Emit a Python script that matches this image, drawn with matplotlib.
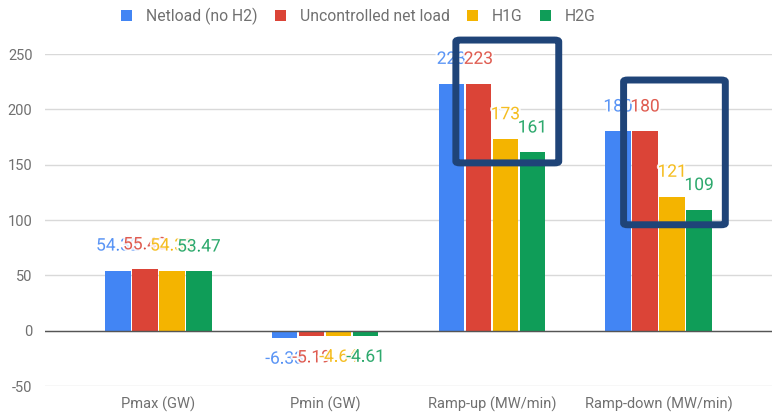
import numpy as np
import matplotlib
matplotlib.use("Agg")
from matplotlib import pyplot as plt
from matplotlib.patches import FancyBboxPatch
import matplotlib.patheffects as pe

plt.rcParams['font.family'] = ['Roboto', 'DejaVu Sans']

categories = ["Pmax (GW)", "Pmin (GW)", "Ramp-up (MW/min)", "Ramp-down (MW/min)"]
series = ["Netload (no H2)", "Uncontrolled net load", "H1G", "H2G"]
netload = [54.32, -6.33, 223, 180]
uncontrolled = [55.42, -5.19, 223, 180]
h1g = [54.33, -4.64, 173, 121]
h2g = [53.47, -4.61, 161, 109]
colors = ["#4285F4", "#DB4437", "#F4B400", "#0F9D58"]
yticks = [-50, 0, 50, 100, 150, 200, 250]

fig = plt.figure(figsize=(7.72, 4.13), dpi=100)
ax = fig.add_axes([45 / 772, 1 - 386 / 413, 1 - 45 / 772, (386 - 54) / 413])

x = np.arange(len(categories))
step = 0.162
width = 0.152
for i, (name, vals, c) in enumerate(zip(series, [netload, uncontrolled, h1g, h2g], colors)):
    pos = x + (i - 1.5) * step
    ax.bar(pos, vals, width=width, color=c, label=name, zorder=3)
    # value labels; each one masks the tail of the previous with a white halo
    for px, v in zip(pos, vals):
        label = f"{v:g}"
        off = 20 if v >= 0 else -14
        va = 'baseline' if v >= 0 else 'top'
        ax.annotate(label, (px, v), xytext=(0, off), textcoords='offset pixels',
                    ha='center', va=va, fontsize=12.5, color=c, alpha=0.85, zorder=5,
                    path_effects=[pe.withStroke(linewidth=3, foreground='white')])

ax.set_xlim(-0.68, 3.68)
ax.set_ylim(-50, 250)
ax.set_yticks(yticks)
ax.set_yticklabels([str(t) for t in yticks])
ax.set_xticks(x)
ax.set_xticklabels(categories)
ax.tick_params(axis='both', length=0, labelsize=10.5, labelcolor='#707070')
ax.tick_params(axis='y', pad=9)
ax.tick_params(axis='x', pad=8)
for s in ax.spines.values():
    s.set_visible(False)
ax.grid(axis='y', color='#d9d9d9', linewidth=1, zorder=0)
ax.axhline(0, color='#555555', linewidth=1, zorder=4)

# highlight boxes on the ramp groups
box_color = "#1f4478"
for x0, x1, y0, y1 in [(1.784, 2.401, 151.6, 262.6), (2.79, 3.40, 95.7, 226.5)]:
    box = FancyBboxPatch((x0, y0), x1 - x0, y1 - y0,
                         boxstyle="round,pad=0,rounding_size=0.025",
                         fill=False, edgecolor=box_color, linewidth=5,
                         clip_on=False, zorder=6, mutation_aspect=60)
    ax.add_patch(box)

fig.legend(loc='center', bbox_to_anchor=(0.464, 1 - 16 / 413), ncol=4, frameon=False,
           fontsize=11.3, handlelength=0.7, handleheight=0.7, handletextpad=0.9,
           columnspacing=1.1, labelcolor='#707070')

fig.savefig("out.png", dpi=100)
